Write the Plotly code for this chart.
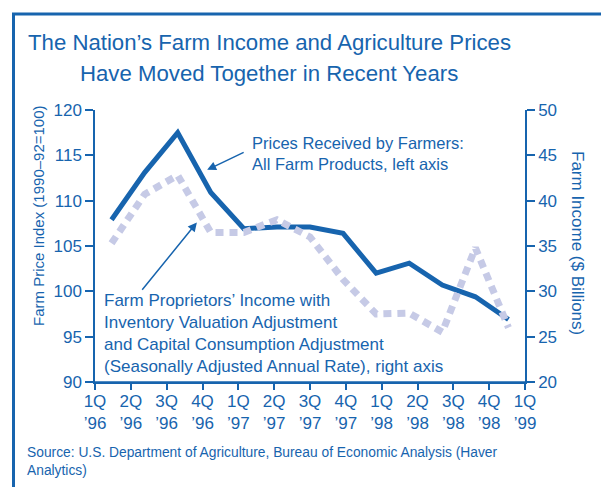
import plotly.graph_objects as go

# Quarterly observations, 1Q 1996 through 1Q 1999
quarters = ["1Q<br>’96", "2Q<br>’96", "3Q<br>’96", "4Q<br>’96",
            "1Q<br>’97", "2Q<br>’97", "3Q<br>’97", "4Q<br>’97",
            "1Q<br>’98", "2Q<br>’98", "3Q<br>’98", "4Q<br>’98",
            "1Q<br>’99"]
# Prices received by farmers, all farm products (1990-92=100), left axis
prices = [107.9, 113.1, 117.5, 110.9, 106.9, 107.1, 107.1, 106.4,
          102.0, 103.1, 100.7, 99.4, 96.9]
# Farm proprietors' income with IVA and CCAdj, SAAR ($ billions), right axis
income = [35.3, 40.7, 42.8, 36.5, 36.5, 37.9, 36.0, 31.3,
          27.5, 27.6, 25.5, 34.8, 26.0]

title_lines = ["The Nation’s Farm Income and Agriculture Prices",
               "Have Moved Together in Recent Years"]

BLUE = "#1764ae"
LAV = "#c6cae6"
FONT = "Liberation Sans, Arial, sans-serif"

idx = list(range(len(quarters)))

fig = go.Figure()
# empty trace that anchors the labelled quarter axis
fig.add_trace(go.Scatter(x=idx, y=[None] * len(idx), xaxis="x", yaxis="y",
                         mode="lines", hoverinfo="skip", showlegend=False))
fig.add_trace(go.Scatter(x=idx, y=income, xaxis="x2", yaxis="y2", mode="lines",
                         line=dict(color=LAV, width=7, dash="8px,6px"),
                         hoverinfo="skip", showlegend=False))
fig.add_trace(go.Scatter(x=idx, y=prices, xaxis="x2", yaxis="y", mode="lines",
                         line=dict(color=BLUE, width=5),
                         hoverinfo="skip", showlegend=False))

axis_common = dict(showgrid=False, zeroline=False, showline=True, linecolor=BLUE,
                   linewidth=1.5, ticks="outside", tickcolor=BLUE, tickwidth=1.5,
                   tickfont=dict(family=FONT, size=17, color=BLUE))

fig.update_layout(
    width=601, height=487,
    margin=dict(l=95, r=76, t=110, b=105),
    paper_bgcolor="white", plot_bgcolor="white",
    font=dict(family=FONT, color=BLUE),
    xaxis=dict(range=[0, len(quarters) - 1], tickvals=idx, ticktext=quarters,
               ticklen=6, ticklabelstandoff=-3, **axis_common),
    xaxis2=dict(range=[-0.5, len(quarters) - 0.5], overlaying="x", visible=False),
    yaxis=dict(range=[90, 120], dtick=5, ticklen=8, **axis_common),
    yaxis2=dict(range=[20, 50], dtick=5, ticklen=8, overlaying="y", side="right",
                **axis_common),
)


def px_x(p):
    return (p - 95) / 430


def px_y(p):
    return (382 - p) / 272


# Chart frame: left and top rules
fig.add_shape(type="line", xref="paper", yref="paper",
              x0=px_x(13.5), x1=px_x(13.5), y0=px_y(14), y1=px_y(495),
              line=dict(color=BLUE, width=3))
fig.add_shape(type="line", xref="paper", yref="paper",
              x0=px_x(12), x1=px_x(610), y0=px_y(14), y1=px_y(14),
              line=dict(color=BLUE, width=3))
# axis lines run slightly past each other at the bottom corners
fig.add_shape(type="line", xref="paper", yref="paper",
              x0=px_x(87), x1=px_x(533), y0=0, y1=0,
              line=dict(color=BLUE, width=1.5))
for xc in (0, 1):
    fig.add_shape(type="line", xref="paper", yref="paper",
                  x0=xc, x1=xc, y0=0, y1=px_y(389),
                  line=dict(color=BLUE, width=1.5))

ann_font = dict(family=FONT, size=16.5, color=BLUE)
annotations = [
    dict(text=title_lines[0], xref="paper", yref="paper", x=px_x(269), y=px_y(42),
         xanchor="center", yanchor="middle", showarrow=False,
         font=dict(family=FONT, size=22.2, color=BLUE)),
    dict(text=title_lines[1], xref="paper", yref="paper", x=px_x(269), y=px_y(73),
         xanchor="center", yanchor="middle", showarrow=False,
         font=dict(family=FONT, size=22.2, color=BLUE)),
    dict(text="Farm Price Index (1990–92=100)", xref="paper", yref="paper",
         x=px_x(38), y=px_y(216), textangle=-90, showarrow=False,
         xanchor="center", yanchor="middle", font=dict(family=FONT, size=15, color=BLUE)),
    dict(text="Farm Income ($ Billions)", xref="paper", yref="paper",
         x=px_x(578), y=px_y(243), textangle=90, showarrow=False,
         xanchor="center", yanchor="middle", font=dict(family=FONT, size=17, color=BLUE)),
    dict(text="Prices Received by Farmers:<br>All Farm Products, left axis",
         xref="paper", yref="paper", x=px_x(250), y=px_y(132),
         xanchor="left", yanchor="top", align="left", showarrow=False, font=ann_font),
    dict(text="Farm Proprietors’ Income with<br>Inventory Valuation Adjustment<br>"
              "and Capital Consumption Adjustment<br>(Seasonally Adjusted Annual Rate), right axis",
         xref="paper", yref="paper", x=px_x(102), y=px_y(289),
         xanchor="left", yanchor="top", align="left", showarrow=False,
         font=dict(family=FONT, size=17, color=BLUE)),
    dict(text="", xref="x2", yref="y", x=2.89, y=113.4, axref="x2", ayref="y",
         ax=4.04, ay=115.4, showarrow=True, arrowhead=2, arrowsize=1.2,
         arrowwidth=1.5, arrowcolor=BLUE),
    dict(text="", xref="x2", yref="y2", x=2.58, y=37.6, axref="x2", ayref="y2",
         ax=0.89, ay=30.0, showarrow=True, arrowhead=2, arrowsize=1.2,
         arrowwidth=1.5, arrowcolor=BLUE),
    dict(text="Source: U.S. Department of Agriculture, Bureau of Economic Analysis (Haver<br>Analytics)",
         xref="paper", yref="paper", x=px_x(25), y=px_y(443),
         xanchor="left", yanchor="top", align="left", showarrow=False,
         font=dict(family=FONT, size=13.8, color=BLUE)),
]
fig.update_layout(annotations=annotations)

fig.write_html("out.html")
